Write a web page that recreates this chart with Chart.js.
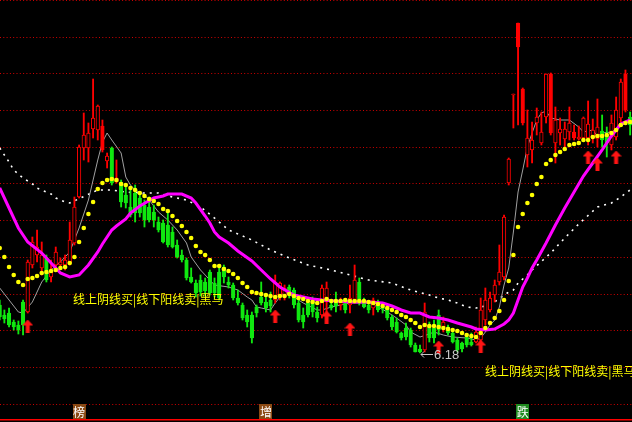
<!DOCTYPE html>
<html>
<head>
<meta charset="utf-8">
<script src="https://cdn.jsdelivr.net/npm/chart.js@4.4.1/dist/chart.umd.min.js"></script>
<style>
    html, body { margin: 0; padding: 0; background: #000; overflow: hidden; }
    .kline-card { width: 632px; height: 422px; }
</style>
</head>
<body>
<kline-chart></kline-chart>
<script>
// 日K线 (开 高 低 收)
const opens = [
    6.66, 6.56, 6.58, 6.49, 6.46, 6.69, 6.59, 7.06, 7.16, 7.03,
    7.13, 6.94, 7.06, 7.06, 7.06, 7.08, 7.28, 7.74, 8.23, 8.23,
    8.42, 8.41, 8.21, 8.10, 8.23, 7.89, 7.89, 7.76, 7.64, 7.78,
    7.73, 7.66, 7.64, 7.59, 7.49, 7.48, 7.46, 7.39, 7.26, 7.16,
    7.11, 6.94, 6.88, 6.91, 6.89, 6.99, 6.88, 6.99, 7.04, 6.89,
    6.86, 6.73, 6.66, 6.56, 6.56, 6.64, 6.74, 6.69, 6.71, 6.71,
    6.76, 6.74, 6.84, 6.81, 6.68, 6.56, 6.68, 6.71, 6.59, 6.56,
    6.69, 6.66, 6.69, 6.66, 6.68, 6.66, 6.69, 6.89, 6.69, 6.66,
    6.63, 6.68, 6.65, 6.63, 6.54, 6.49, 6.38, 6.43, 6.41, 6.26,
    6.22, 6.21, 6.46, 6.43, 6.56, 6.44, 6.44, 6.38, 6.31, 6.28,
    6.34, 6.29, 6.29, 6.31, 6.51, 6.61, 6.76, 6.89, 6.94, 7.88,
    8.76, 9.24, 8.48, 8.16, 8.21, 8.48, 8.28, 8.54, 8.38, 8.28,
    8.38, 8.32, 8.39, 8.33, 8.32, 8.33, 8.33, 8.33, 8.32, 8.40,
    8.35, 8.26, 8.34, 8.53, 8.61, 8.54
];
const highs = [
    6.71, 6.61, 6.63, 6.51, 6.50, 6.71, 7.11, 7.34, 7.41, 7.29,
    7.16, 7.11, 7.24, 7.13, 7.16, 7.49, 7.74, 8.26, 8.58, 8.48,
    8.92, 8.66, 8.51, 8.18, 8.24, 8.11, 7.91, 7.84, 7.81, 7.86,
    7.76, 7.71, 7.74, 7.66, 7.54, 7.51, 7.58, 7.44, 7.31, 7.21,
    7.13, 7.03, 6.91, 6.96, 6.93, 7.01, 6.93, 7.03, 7.06, 6.94,
    6.88, 6.81, 6.68, 6.61, 6.59, 6.66, 6.89, 6.74, 6.79, 6.96,
    6.89, 6.86, 6.86, 6.83, 6.71, 6.63, 6.71, 6.74, 6.64, 6.86,
    6.89, 6.69, 6.79, 6.73, 6.69, 6.86, 7.06, 6.93, 6.73, 6.69,
    6.73, 6.71, 6.68, 6.66, 6.56, 6.53, 6.39, 6.48, 6.43, 6.28,
    6.26, 6.68, 6.49, 6.51, 6.61, 6.54, 6.46, 6.39, 6.33, 6.29,
    6.36, 6.38, 6.44, 6.73, 6.83, 6.79, 6.91, 7.26, 7.56, 8.13,
    8.77, 9.48, 8.83, 8.61, 8.49, 8.63, 8.59, 8.97, 8.98, 8.64,
    8.53, 8.49, 8.64, 8.46, 8.45, 8.54, 8.70, 8.52, 8.72, 8.56,
    8.44, 8.56, 8.74, 8.92, 9.01, 8.59
];
const lows = [
    6.51, 6.48, 6.44, 6.41, 6.37, 6.36, 6.58, 7.03, 7.09, 6.96,
    6.89, 6.89, 7.01, 7.03, 7.01, 7.06, 7.26, 7.73, 8.11, 8.09,
    8.33, 8.31, 8.19, 8.03, 7.86, 7.88, 7.64, 7.63, 7.54, 7.49,
    7.54, 7.44, 7.49, 7.44, 7.39, 7.28, 7.24, 7.23, 7.13, 7.09,
    6.91, 6.88, 6.74, 6.75, 6.75, 6.76, 6.74, 6.71, 6.88, 6.83,
    6.71, 6.66, 6.51, 6.44, 6.28, 6.54, 6.66, 6.59, 6.59, 6.68,
    6.71, 6.71, 6.73, 6.63, 6.49, 6.43, 6.54, 6.54, 6.49, 6.53,
    6.59, 6.61, 6.59, 6.61, 6.58, 6.58, 6.68, 6.66, 6.63, 6.58,
    6.56, 6.59, 6.58, 6.51, 6.41, 6.38, 6.31, 6.31, 6.24, 6.19,
    6.18, 6.19, 6.29, 6.28, 6.36, 6.39, 6.36, 6.28, 6.19, 6.19,
    6.24, 6.25, 6.28, 6.28, 6.46, 6.59, 6.69, 6.86, 6.91, 7.86,
    8.43, 8.46, 8.46, 8.04, 8.08, 8.36, 8.26, 8.48, 8.36, 8.08,
    8.26, 8.24, 8.31, 8.31, 8.31, 8.31, 8.26, 8.28, 8.24, 8.24,
    8.14, 8.21, 8.31, 8.49, 8.59, 8.36
];
const closes = [
    6.54, 6.52, 6.46, 6.44, 6.41, 6.46, 7.09, 7.29, 7.24, 7.16,
    6.91, 7.01, 7.19, 7.09, 7.11, 7.31, 7.64, 8.24, 8.36, 8.38,
    8.53, 8.65, 8.45, 8.15, 7.88, 7.93, 7.69, 7.68, 7.56, 7.58,
    7.58, 7.51, 7.51, 7.51, 7.41, 7.29, 7.26, 7.24, 7.14, 7.11,
    6.93, 6.89, 6.78, 6.79, 6.80, 6.78, 6.78, 6.73, 6.94, 6.86,
    6.73, 6.68, 6.53, 6.49, 6.33, 6.58, 6.68, 6.63, 6.65, 6.89,
    6.88, 6.83, 6.76, 6.66, 6.51, 6.49, 6.56, 6.59, 6.53, 6.83,
    6.83, 6.63, 6.65, 6.69, 6.61, 6.73, 6.91, 6.68, 6.64, 6.61,
    6.71, 6.61, 6.62, 6.53, 6.44, 6.39, 6.33, 6.34, 6.26, 6.19,
    6.19, 6.59, 6.33, 6.33, 6.41, 6.49, 6.38, 6.29, 6.21, 6.22,
    6.26, 6.26, 6.39, 6.61, 6.71, 6.73, 6.86, 6.99, 7.54, 8.12,
    8.77, 9.48, 8.82, 8.33, 8.31, 8.54, 8.39, 8.97, 8.97, 8.51,
    8.42, 8.42, 8.48, 8.39, 8.34, 8.53, 8.47, 8.41, 8.44, 8.31,
    8.28, 8.48, 8.61, 8.89, 8.97, 8.46
];
// 实心红柱
const solidBars = [22, 111, 112, 118, 123, 134];

// 黄色点线 (每根K线一个点)
const dotLine = [
    7.23, 7.14, 7.04, 6.96, 6.89, 6.86, 6.92, 6.93, 6.95, 6.98,
    6.99, 7.00, 7.01, 7.03, 7.04, 7.08, 7.14, 7.29, 7.43, 7.57,
    7.69, 7.82, 7.88, 7.91, 7.92, 7.91, 7.87, 7.86, 7.83, 7.81,
    7.78, 7.75, 7.72, 7.70, 7.67, 7.62, 7.60, 7.55, 7.50, 7.45,
    7.39, 7.33, 7.25, 7.19, 7.16, 7.11, 7.05, 7.05, 7.02, 7.00,
    6.97, 6.93, 6.88, 6.84, 6.79, 6.78, 6.77, 6.76, 6.75, 6.74,
    6.75, 6.75, 6.77, 6.75, 6.73, 6.72, 6.70, 6.69, 6.68, 6.70,
    6.72, 6.70, 6.70, 6.70, 6.71, 6.70, 6.70, 6.70, 6.70, 6.69,
    6.68, 6.67, 6.65, 6.63, 6.61, 6.59, 6.56, 6.54, 6.51, 6.48,
    6.44, 6.46, 6.45, 6.45, 6.44, 6.43, 6.42, 6.41, 6.40, 6.38,
    6.36, 6.35, 6.34, 6.38, 6.43, 6.48, 6.53, 6.60, 6.71, 6.90,
    7.16, 7.44, 7.57, 7.68, 7.76, 7.87, 7.94, 8.07, 8.11, 8.16,
    8.19, 8.22, 8.26, 8.27, 8.28, 8.31, 8.31, 8.34, 8.35, 8.35,
    8.36, 8.38, 8.41, 8.46, 8.48, 8.49
];

// 灰色短均线
const grayIdx = [0, 2, 4, 5, 7, 9, 11, 13, 15, 17, 19, 21, 22, 23, 24, 26, 27, 28, 29, 31,
    32, 34, 36, 38, 40, 41, 43, 45, 46, 49, 51, 53, 54, 55, 56, 58, 59, 60, 61, 63,
    65, 68, 69, 71, 75, 79, 81, 83, 85, 87, 88, 90, 92, 93, 95, 97, 100, 102, 103, 104,
    105, 106, 107, 108, 109, 110, 111, 112, 113, 114, 115, 116, 117, 118, 120, 122, 124, 125, 127, 128,
    129, 131, 133, 135];
const grayVal = [6.83, 6.71, 6.59, 6.58, 6.69, 6.89, 7.01, 7.09, 7.19, 7.43, 7.71, 8.11, 8.29, 8.38, 8.31, 8.18, 7.94, 7.86, 7.81, 7.76,
    7.71, 7.59, 7.51, 7.41, 7.28, 7.14, 7.01, 6.91, 6.86, 6.84, 6.81, 6.74, 6.71, 6.64, 6.63, 6.61, 6.68, 6.74, 6.79, 6.74,
    6.68, 6.61, 6.61, 6.64, 6.68, 6.68, 6.64, 6.59, 6.53, 6.46, 6.39, 6.34, 6.37, 6.39, 6.36, 6.34, 6.33, 6.31, 6.33, 6.39,
    6.46, 6.51, 6.64, 6.86, 7.03, 7.39, 7.79, 8.01, 8.24, 8.38, 8.51, 8.58, 8.60, 8.53, 8.51, 8.51, 8.44, 8.39, 8.41, 8.35,
    8.38, 8.39, 8.45, 8.50];

// 紫色中期均线
const maIdx = [0, 2, 4, 6, 9, 11, 13, 15, 17, 19, 21, 22, 24, 25, 27, 28, 30, 33, 35, 36,
    39, 41, 42, 44, 45, 46, 47, 49, 51, 54, 56, 58, 60, 63, 65, 67, 69, 72, 75, 79,
    82, 84, 86, 88, 90, 92, 94, 96, 98, 101, 102, 104, 106, 108, 109, 110, 111, 112, 113, 114,
    115, 117, 119, 121, 123, 125, 127, 129, 131, 133, 134, 135];
const maVal = [7.83, 7.63, 7.43, 7.29, 7.18, 7.08, 6.98, 6.94, 6.96, 7.06, 7.19, 7.27, 7.41, 7.45, 7.52, 7.58, 7.65, 7.73, 7.75, 7.77,
    7.77, 7.73, 7.68, 7.55, 7.48, 7.39, 7.34, 7.28, 7.20, 7.10, 7.01, 6.92, 6.84, 6.76, 6.74, 6.72, 6.71, 6.70, 6.69, 6.69,
    6.68, 6.65, 6.61, 6.58, 6.58, 6.54, 6.53, 6.51, 6.48, 6.44, 6.42, 6.41, 6.42, 6.47, 6.51, 6.58, 6.71, 6.84, 6.93, 7.03,
    7.11, 7.28, 7.46, 7.63, 7.79, 7.95, 8.08, 8.21, 8.35, 8.47, 8.49, 8.51];

// 白色长期均线
const longIdx = [0, 2, 3, 5, 7, 8, 10, 11, 12, 14, 15, 21, 24, 27, 30, 34, 37, 40, 43, 46,
    49, 54, 58, 62, 66, 71, 75, 79, 84, 88, 92, 94, 96, 98, 100, 102, 105, 109, 110, 111,
    113, 114, 118, 121, 124, 128, 131, 133, 135];
const longVal = [8.23, 8.09, 8.01, 7.93, 7.87, 7.83, 7.79, 7.77, 7.73, 7.69, 7.68, 7.81, 7.81, 7.79, 7.78, 7.78, 7.74, 7.71, 7.64, 7.53,
    7.41, 7.31, 7.21, 7.13, 7.06, 7.01, 6.96, 6.91, 6.88, 6.81, 6.76, 6.73, 6.71, 6.68, 6.64, 6.63, 6.66, 6.79, 6.81, 6.88,
    6.96, 7.01, 7.18, 7.33, 7.47, 7.64, 7.68, 7.74, 7.81];

// 买入箭头
const arrowIdx = [6, 59, 70, 75, 94, 103, 126, 128, 132];
const arrowVal = [6.45, 6.55, 6.54, 6.42, 6.24, 6.25, 8.14, 8.07, 8.14];

// 网格价位
const gridPrices = [9.705, 9.338, 8.971, 8.605, 8.238, 7.871, 7.504, 7.137, 6.770, 6.404, 6.037, 5.670];

// 文字标注
const noteText = '线上阴线买|线下阳线卖|黑马';
const noteIdx = [15.7, 103.9];
const noteVal = [6.72, 6.00];

// 底部信息地雷
const markIdx = [17, 57, 112];
const markText = ['榜', '增', '跌'];
const markColor = ['#8b4a14', '#8b4a14', '#1f8a1f'];

const UP = '#ff0000';
const DOWN = '#10e810';

function arrowImage() {
    const c = document.createElement('canvas');
    c.width = 11;
    c.height = 13;
    const g = c.getContext('2d');
    g.fillStyle = '#ff1414';
    g.beginPath();
    g.moveTo(5.5, 0);
    g.lineTo(11, 6);
    g.lineTo(0, 6);
    g.closePath();
    g.fill();
    g.fillRect(3.5, 6, 4, 7);
    return c;
}

const overlayText = {
    id: 'overlayText',
    afterDatasetsDraw(chart) {
        const { ctx, chartArea } = chart;
        const x = chart.scales.x;
        const y = chart.scales.y;
        ctx.save();

        ctx.font = '12px "Noto Sans CJK SC"';
        ctx.fillStyle = '#ffff00';
        ctx.textAlign = 'left';
        ctx.textBaseline = 'middle';
        noteIdx.forEach((idx, k) => {
            ctx.fillText(noteText, x.getPixelForValue(idx), y.getPixelForValue(noteVal[k]));
        });

        // 最低价标注
        let lowIdx = 0;
        lows.forEach((v, i) => { if (v < lows[lowIdx]) lowIdx = i; });
        const px = Math.round(x.getPixelForValue(lowIdx)) + 1;
        const py = Math.round(y.getPixelForValue(lows[lowIdx])) + 1.5;
        ctx.strokeStyle = '#c8c8c8';
        ctx.lineWidth = 1;
        ctx.beginPath();
        ctx.moveTo(px, py);
        ctx.lineTo(px + 12, py);
        ctx.moveTo(px + 3, py - 3);
        ctx.lineTo(px, py);
        ctx.lineTo(px + 3, py + 3);
        ctx.stroke();
        ctx.font = '13px "Liberation Sans"';
        ctx.fillStyle = '#c8c8c8';
        ctx.fillText(lows[lowIdx].toFixed(2), px + 13, py + 1);

        // 底部方块
        ctx.font = '12px "Noto Sans CJK SC"';
        ctx.textAlign = 'center';
        markIdx.forEach((idx, k) => {
            const cx = x.getPixelForValue(idx);
            const top = chartArea.bottom - 16;
            ctx.fillStyle = markColor[k];
            ctx.fillRect(Math.round(cx - 6.5), top, 13, 15);
            ctx.fillStyle = '#ffffff';
            ctx.fillText(markText[k], cx, top + 8);
        });
        ctx.restore();
    }
};

class KlineChart extends HTMLElement {
    constructor() {
        super();
        this.chart = null;
    }

    connectedCallback() {
        this.render();
        this.initChart();
    }

    initChart() {
        const ctx = this.querySelector('#klineChart').getContext('2d');
        const isUp = opens.map((o, i) => closes[i] >= o);
        const lineColor = isUp.map(u => (u ? UP : DOWN));
        const bodyFill = isUp.map((u, i) => (u ? (solidBars.includes(i) ? UP : '#000000') : DOWN));

        this.chart = new Chart(ctx, {
            type: 'bar',
            data: {
                datasets: [
                    {
                        type: 'line',
                        data: longIdx.map((v, k) => ({ x: v, y: longVal[k] })),
                        borderColor: '#ffffff',
                        borderWidth: 1.6,
                        borderDash: [2, 5],
                        pointRadius: 0,
                        order: 7
                    },
                    {
                        type: 'line',
                        data: grayIdx.map((v, k) => ({ x: v, y: grayVal[k] })),
                        borderColor: '#a0a0a0',
                        borderWidth: 1,
                        pointRadius: 0,
                        order: 6
                    },
                    {
                        data: opens.map((o, i) => ({ x: i, y: [lows[i], highs[i]] })),
                        backgroundColor: lineColor,
                        barThickness: 1.2,
                        grouped: false,
                        order: 5
                    },
                    {
                        data: opens.map((o, i) => ({ x: i, y: [o, closes[i]] })),
                        backgroundColor: bodyFill,
                        borderColor: lineColor,
                        borderWidth: 1,
                        borderSkipped: false,
                        barThickness: 3.6,
                        minBarLength: 1,
                        grouped: false,
                        order: 4
                    },
                    {
                        type: 'line',
                        data: maIdx.map((v, k) => ({ x: v, y: maVal[k] })),
                        borderColor: '#ff00ff',
                        borderWidth: 3,
                        pointRadius: 0,
                        order: 3
                    },
                    {
                        type: 'line',
                        data: dotLine.map((v, i) => ({ x: i, y: v })),
                        showLine: false,
                        pointRadius: 2.3,
                        pointBorderWidth: 0,
                        pointBackgroundColor: '#ffff00',
                        order: 2
                    },
                    {
                        type: 'line',
                        data: arrowIdx.map((v, k) => ({ x: v, y: arrowVal[k] })),
                        showLine: false,
                        pointStyle: arrowImage(),
                        order: 1
                    }
                ]
            },
            options: {
                responsive: false,
                animation: false,
                events: [],
                layout: { autoPadding: false, padding: { left: 0, right: 0, top: 0, bottom: 2 } },
                scales: {
                    x: {
                        type: 'linear',
                        min: 0.064,
                        max: 135.4,
                        offset: false,
                        ticks: { display: false },
                        grid: { display: false, drawTicks: false },
                        border: { display: true, color: '#ff0000', width: 1.5 }
                    },
                    y: {
                        min: 5.51,
                        max: 9.71,
                        afterBuildTicks: scale => {
                            scale.ticks = gridPrices.map(v => ({ value: v }));
                        },
                        ticks: { display: false },
                        grid: { color: '#d00000', lineWidth: 1, drawTicks: false },
                        border: { display: false, dash: [1, 2.3] }
                    }
                },
                plugins: {
                    legend: { display: false },
                    tooltip: { enabled: false }
                }
            },
            plugins: [overlayText]
        });
    }

    render() {
        this.innerHTML = `
            <div class="kline-card">
                <canvas id="klineChart" width="632" height="422"></canvas>
            </div>
        `;
    }
}

customElements.define('kline-chart', KlineChart);
</script>
</body>
</html>
